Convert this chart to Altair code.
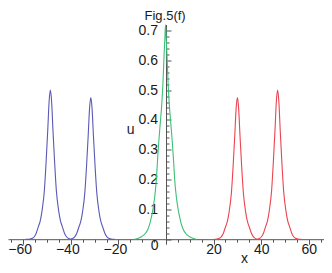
import altair as alt
import pandas as pd

# ---- data ----
blue_x = [-59.0, -57.1, -56.1, -55.3, -54.5, -53.6, -52.9, -52.1, -51.1, -50.4, -49.7, -49.1,
          -48.6, -48.1, -47.5, -46.8, -46.1, -45.1, -44.3, -43.6, -42.7, -41.9, -41.1, -40.15,
          -39.1, -38.3, -37.5, -36.6, -35.9, -35.1, -34.1, -33.4, -32.7, -32.1, -31.6, -31.1,
          -30.5, -29.8, -29.1, -28.1, -27.3, -26.6, -25.7, -24.9, -24.1, -23.1, -21.5]
blue_u = [0.0, 0.0008, 0.003, 0.009, 0.021, 0.043, 0.06, 0.095, 0.165, 0.257, 0.365, 0.465,
          0.500, 0.465, 0.365, 0.257, 0.165, 0.095, 0.06, 0.043, 0.021, 0.009, 0.003, 0.0008,
          0.0028, 0.0085, 0.020, 0.041, 0.057, 0.090, 0.157, 0.244, 0.347, 0.442, 0.475, 0.442,
          0.347, 0.244, 0.157, 0.090, 0.057, 0.041, 0.020, 0.0085, 0.0028, 0.0008, 0.0]

green_x = [-13.2, -11.7, -10.2, -8.7, -7.7, -6.75, -6.2, -5.5, -4.7, -4.05, -3.6, -3.1, -2.4,
           -1.8, -1.3, -0.8, -0.5, -0.2, 0.1, 0.4, 0.9, 1.4, 2.0, 2.7, 3.2, 3.65, 4.3, 5.1,
           5.8, 6.35, 7.3, 8.3, 9.8, 11.3, 12.8]
green_u = [0.0, 0.003, 0.009, 0.019, 0.032, 0.053, 0.072, 0.10, 0.145, 0.20, 0.26, 0.32, 0.39,
           0.45, 0.52, 0.62, 0.67, 0.719, 0.67, 0.62, 0.52, 0.45, 0.39, 0.32, 0.26, 0.20, 0.145,
           0.10, 0.072, 0.053, 0.032, 0.019, 0.009, 0.003, 0.0]

red_x = [20.5, 21.5, 22.5, 23.3, 24.1, 25.0, 25.7, 26.5, 27.5, 28.2, 28.9, 29.5, 30.0, 30.5,
         31.1, 31.8, 32.5, 33.5, 34.3, 35.0, 35.9, 36.7, 37.5, 38.45,
         39.4, 40.2, 41.0, 41.9, 42.6, 43.4, 44.4, 45.1, 45.8, 46.4, 46.9, 47.4, 48.0, 48.7,
         49.4, 50.4, 51.2, 51.9, 52.8, 53.6, 54.4, 55.4, 57.0]
red_u = [0.0, 0.0008, 0.0028, 0.0085, 0.020, 0.041, 0.057, 0.090, 0.157, 0.244, 0.347, 0.442,
         0.475, 0.442, 0.347, 0.244, 0.157, 0.090, 0.057, 0.041, 0.020, 0.0085, 0.0028, 0.0008,
         0.003, 0.009, 0.021, 0.043, 0.06, 0.095, 0.165, 0.257, 0.365, 0.465, 0.500, 0.465,
         0.365, 0.257, 0.165, 0.095, 0.06, 0.043, 0.021, 0.009, 0.003, 0.0008, 0.0]

series_names = ["blue", "green", "red"]
series_colors = ["#5a5ab4", "#3cbf78", "#ec4450"]

title_text = "Fig.5(f)"
x_ticks = [-65, -60, -55, -50, -45, -40, -35, -30, -25, -20, -15, -10, -5, 0,
           5, 10, 15, 20, 25, 30, 35, 40, 45, 50, 55, 60, 65]
y_labels = [0.1, 0.2, 0.3, 0.4, 0.5, 0.6, 0.7]
y_ticks = [0.0, 0.02, 0.04, 0.06, 0.08, 0.1, 0.12, 0.14, 0.16, 0.18, 0.2, 0.22, 0.24, 0.26,
           0.28, 0.3, 0.32, 0.34, 0.36, 0.38, 0.4, 0.42, 0.44, 0.46, 0.48, 0.5, 0.52, 0.54,
           0.56, 0.58, 0.6, 0.62, 0.64, 0.66, 0.68, 0.7]

rows = []
for name, xs, us in [("blue", blue_x, blue_u), ("green", green_x, green_u), ("red", red_x, red_u)]:
    for xv, uv in zip(xs, us):
        rows.append({"series": name, "x": xv, "u": uv})
df = pd.DataFrame(rows)

# ---- layout ----
W, H = 316, 214.7
XMIN, XMAX = -66.4, 66.4
YMAX = 0.72
X0 = W * (0 - XMIN) / (XMAX - XMIN)   # pixel position of x = 0
FONT = "Liberation Sans"
FS = 14
TXT = "#1a1a1a"
AX = "#555555"

origin = pd.DataFrame({"x": [0], "u": [0], "t": ["0"]})
title_df = pd.DataFrame({"x": [0], "u": [YMAX], "t": [title_text]})

x_scale = alt.Scale(domain=[XMIN, XMAX], nice=False, zero=False)
y_scale = alt.Scale(domain=[0, YMAX], nice=False, zero=False)

x_axis = alt.Axis(
    values=x_ticks,
    labelExpr="(datum.value % 20 == 0 && datum.value != 0) ? format(datum.value, 'd') : ''",
    tickSize={"condition": {"test": "datum.value % 20 == 0", "value": 5}, "value": 3},
    labelOffset={"condition": {"test": "datum.value < 0", "value": -3.5}, "value": 0},
    labelPadding=5, labelBaseline="middle", labelOverlap=False, labelFlush=False,
    labelFont=FONT, labelFontSize=FS, labelColor=TXT,
    domainColor=AX, tickColor=AX, domainWidth=1, tickWidth=1, grid=False,
    title="x", titleX=236.1, titleY=19.3, titleAlign="center", titleBaseline="middle",
    titleFont=FONT, titleFontSize=FS, titleFontWeight="normal", titleColor=TXT,
)

y_label_axis = alt.Axis(
    orient="left", offset=-X0, values=y_labels, format=".1f",
    ticks=False, tickSize=0, domain=False, grid=False,
    labelPadding=8.5, labelFont=FONT, labelFontSize=FS, labelColor=TXT,
    title="u", titleAngle=0, titleX=-35.9, titleY=104.7, titleAlign="center",
    titleBaseline="middle", titleFont=FONT, titleFontSize=FS, titleFontWeight="normal",
    titleColor=TXT,
)

y_tick_axis = alt.Axis(
    orient="right", offset=-(W - X0), values=y_ticks, labels=False, title=None,
    tickSize={"condition": {"test": "abs(datum.value*10 - round(datum.value*10)) < 0.001",
                            "value": 5}, "value": 3},
    domainColor=AX, tickColor=AX, domainWidth=1, tickWidth=1, grid=False,
)

lines = alt.Chart(df).mark_line(strokeWidth=1.1, interpolate="monotone").encode(
    x=alt.X("x:Q", scale=x_scale, axis=x_axis),
    y=alt.Y("u:Q", scale=y_scale, axis=y_label_axis),
    color=alt.Color("series:N", scale=alt.Scale(domain=series_names, range=series_colors),
                    legend=None),
)

ticks_layer = alt.Chart(df).mark_line(opacity=0).encode(
    x=alt.X("x:Q", scale=x_scale, axis=x_axis),
    y=alt.Y("u:Q", scale=y_scale, axis=y_tick_axis),
    detail="series:N",
)

zero_label = alt.Chart(origin).mark_text(
    dx=-11.4, dy=6.4, font=FONT, fontSize=FS, color=TXT, align="center", baseline="middle"
).encode(
    x=alt.X("x:Q", scale=x_scale, axis=x_axis),
    y=alt.Y("u:Q", scale=y_scale, axis=None),
    text="t:N",
)

title_layer = alt.Chart(title_df).mark_text(
    dx=-0.9, dy=-4.75, font=FONT, fontSize=13, color=TXT, align="center", baseline="alphabetic"
).encode(
    x=alt.X("x:Q", scale=x_scale, axis=x_axis),
    y=alt.Y("u:Q", scale=y_scale, axis=None),
    text="t:N",
)

chart = alt.layer(lines, ticks_layer, zero_label, title_layer).resolve_axis(
    y="independent"
).properties(
    width=W, height=H,
    autosize=alt.AutoSizeParams(type="none"),
    padding={"left": 0, "top": 16.5, "right": 0, "bottom": 25.8},
).configure_view(stroke=None)

chart.save("out.html", embed_options={"renderer": "svg", "actions": False})
